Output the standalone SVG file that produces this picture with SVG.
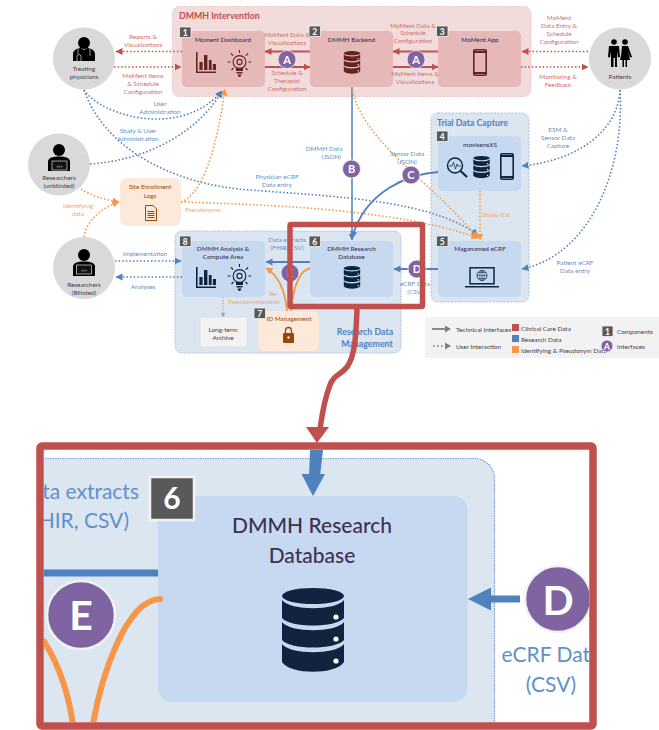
<svg xmlns="http://www.w3.org/2000/svg" width="659" height="730" viewBox="0 0 659 730">
<style>
text{font-family:"Lato","Carlito","Liberation Sans",sans-serif;font-size:6.4px;text-anchor:middle}
.r{fill:#cf6f6c}.b{fill:#5f90cc}.o{fill:#f8a55f}.k{fill:#3f3f4f}.t{fill:#403152;font-weight:500}
.st{text-anchor:start}
.h{font-weight:700;font-size:8.8px}
.bd{fill:#595959;stroke:#f2f2f2;stroke-width:.8}
.bt{fill:#fff;font-weight:700;font-size:8.5px}
.ci{fill:#8064a2;stroke:#f2f2f2;stroke-width:.8}
.ct{fill:#fff;font-weight:700;font-size:11px}
.pc{fill:#d9d9d9}
.rn{fill:#e6b8b7}.bn{fill:#c6d9f0}.on{fill:#fde9d9}
.d{fill:none;stroke-width:1.6;stroke-dasharray:1.5 2.1}
.s{fill:none;stroke-width:1.8}
.rc{stroke:#c0504d}.bc{stroke:#4f81bd}.oc{stroke:#f79646}
</style>
<defs>
<marker id="mr" markerUnits="userSpaceOnUse" markerWidth="8" markerHeight="8" refX="6.5" refY="3.5" orient="auto"><path d="M0 0L7 3.5L0 7Z" fill="#c0504d"/></marker>
<marker id="mb" markerUnits="userSpaceOnUse" markerWidth="8" markerHeight="8" refX="6.5" refY="3.5" orient="auto"><path d="M0 0L7 3.5L0 7Z" fill="#4f81bd"/></marker>
<marker id="mo" markerUnits="userSpaceOnUse" markerWidth="8" markerHeight="8" refX="6.5" refY="3.5" orient="auto"><path d="M0 0L7 3.5L0 7Z" fill="#f79646"/></marker>
<marker id="mg" markerUnits="userSpaceOnUse" markerWidth="6" markerHeight="6" refX="4.5" refY="2.5" orient="auto"><path d="M0 0L5 2.5L0 5Z" fill="#a6a6a6"/></marker>
<symbol id="db" viewBox="0 0 62 85"><ellipse cx="31" cy="8" rx="31" ry="8" fill="currentColor"/><path id="b1" d="M0 12C8 23 54 23 62 12V30C54 40 8 40 0 30Z" fill="currentColor"/><path d="M0 34C8 45 54 45 62 34V52C54 62 8 62 0 52Z" fill="currentColor"/><path d="M0 56C8 67 54 67 62 56V74C54 87 8 87 0 74Z" fill="currentColor"/><circle cx="54" cy="29" r="2.6" fill="#fff"/><circle cx="54" cy="51" r="2.6" fill="#fff"/><circle cx="54" cy="73" r="2.6" fill="#fff"/></symbol>
<symbol id="bars" viewBox="0 0 20 21"><path d="M0 0H1.6V19.4H20V21H0Z M3.4 10H6.6V18H3.4Z M8 3H11.4V18H8Z M12.8 8H15.6V18H12.8Z M16.8 12H20V18H16.8Z" fill="currentColor"/></symbol>
<symbol id="bulb" viewBox="0 0 24 27"><g fill="none" stroke="currentColor" stroke-width="1.1"><circle cx="12" cy="12" r="6.4"/><circle cx="12" cy="12" r="2.6"/><path d="M12 0V3M0 12H3M21 12H24M3.5 3.5L5.7 5.7M20.5 3.5L18.3 5.7M4 20L6 18M20 20L18 18"/></g><path d="M8.5 18H15.5V21H8.5ZM9 22H15V23.6H9ZM10 24.6H14L12.8 27H11.2Z" fill="currentColor"/></symbol>
<symbol id="phone" viewBox="0 0 14 27"><rect x=".8" y=".8" width="12.4" height="25.4" rx="1.2" fill="none" stroke="currentColor" stroke-width="1.6"/><path d="M0 2H14V4H0ZM0 23H14V25H0Z" fill="currentColor"/></symbol>
</defs>
<rect width="659" height="730" fill="#fff"/>

<g id="legend">
<rect x="425" y="317" width="234" height="41" fill="#f2f2f2"/>
<path d="M432 329H445" stroke="#7f7f7f" stroke-width="1.8"/><path d="M445 325.5L451 329L445 332.5Z" fill="#7f7f7f"/>
<path d="M433 346H445" stroke="#7f7f7f" stroke-width="1.6" stroke-dasharray="1.6 2.4"/><path d="M445 342.5L451 346L445 349.5Z" fill="#7f7f7f"/>
<text class="k st" x="456" y="331.5">Technical Interfaces</text><text class="k st" x="456" y="348.5">User Interaction</text>
<rect x="512" y="324" width="7" height="7" fill="#c0504d"/><rect x="512" y="335" width="7" height="7" fill="#4f81bd"/><rect x="512" y="346" width="7" height="7" fill="#f79646"/>
<text class="k st" x="521" y="330.5">Clinical Care Data</text><text class="k st" x="521" y="341.5">Research Data</text><text class="k st" x="521" y="352.5">Identifying &amp; Pseudonym Data</text>
<rect class="bd" x="602" y="326" width="11" height="10.5"/><text class="bt" x="607.5" y="334.5">1</text>
<circle class="ci" cx="607" cy="346" r="6"/><text class="ct" x="607" y="349.5" style="font-size:9px">A</text>
<text class="k st" x="617" y="333.5">Components</text><text class="k st" x="617" y="348.5">Interfaces</text>
</g>

<g id="dmmh-intervention"><rect x="172.500" y="6.500" width="358.500" height="90" rx="7" fill="#f2dcdb" stroke="#e6b8b7" stroke-width=".8" stroke-dasharray="2 1.500"/><text class="h st" x="179" y="19" fill="#c0504d">DMMH Intervention</text></g>
<g id="trial-data-capture"><rect x="431" y="113" width="98" height="189" rx="7" fill="#dce6f1" stroke="#95b3d7" stroke-width=".8" stroke-dasharray="2 1.500"/><text class="h st" x="437" y="125.500" fill="#4f81bd">Trial Data Capture</text></g>
<g id="research-data-management"><rect x="175" y="231" width="226" height="122" rx="7" fill="#dce6f1" stroke="#95b3d7" stroke-width=".8" stroke-dasharray="1.500 1.200"/><text class="h" x="365" y="335" fill="#4f81bd">Research Data</text><text class="h" x="367" y="346.500" fill="#4f81bd">Management</text></g>

<g id="connectors">
<path class="d rc" marker-end="url(#mr)" d="M182 51.500H116"/><path class="d rc" marker-end="url(#mr)" d="M114 67H181"/>
<path class="d rc" marker-end="url(#mr)" d="M588 51.500H522"/><path class="d rc" marker-end="url(#mr)" d="M521 67H588"/>
<path class="s rc" marker-end="url(#mr)" d="M310 51.500H265"/><path class="s rc" marker-end="url(#mr)" d="M265 67H310"/>
<path class="s rc" marker-end="url(#mr)" d="M438 51.500H393"/><path class="s rc" marker-end="url(#mr)" d="M393 67H438"/>
<path class="d bc" marker-end="url(#mb)" d="M84 90C100 115 180 140 222 91"/>
<path class="d bc" marker-end="url(#mb)" d="M90 164C150 160 200 130 222 91"/>
<path class="d bc" marker-end="url(#mb)" d="M84 90C105 150 175 185 250 190C340 197 430 200 478 235"/>
<path class="d bc" marker-end="url(#mb)" d="M620 90C618 130 580 160 522 166"/>
<path class="d bc" marker-end="url(#mb)" d="M620 90C625 170 590 255 522 269"/>
<path class="d bc" marker-end="url(#mb)" d="M115 261H181"/><path class="d bc" marker-end="url(#mb)" d="M182 277H116"/>
<path class="s bc" style="stroke-width:1.500" marker-end="url(#mb)" d="M352 87V240"/>
<path class="s bc" marker-end="url(#mb)" d="M438 172C410 174 365 190 352 238"/>
<path class="s bc" marker-end="url(#mb)" d="M438 269H394"/>
<path class="s bc" marker-end="url(#mb)" d="M310 262H266"/>
<path class="d oc" marker-end="url(#mo)" d="M81 189C90 195 105 200 119 202"/>
<path class="d oc" marker-end="url(#mo)" d="M84 237C86 222 100 208 119 202"/>
<path class="d oc" marker-end="url(#mo)" d="M181 202C200 195 215 160 225 89"/>
<path class="d oc" marker-end="url(#mo)" d="M181 202C280 205 400 210 478 238"/>
<path class="d oc" marker-end="url(#mo)" d="M352 87C360 140 430 180 478 238"/>
<path class="d oc" marker-end="url(#mo)" d="M480 191V240"/>
<path class="s oc" marker-end="url(#mo)" d="M287 311C285 290 278 275 266 268"/>
<path class="s oc" d="M291 311C293 290 298 270 311 268"/>
<path fill="none" stroke="#a6a6a6" stroke-width="1" stroke-dasharray="1.500 1.500" marker-end="url(#mg)" d="M223 297V317"/>
</g>

<g id="physicians"><circle class="pc" cx="84" cy="58.500" r="31"/>
<circle cx="84" cy="43" r="6"/><path d="M73 61V54C73 50 77 48.500 81 48L84 50L87 48C91 48.500 95 50 95 54V61Z"/><path d="M78 49V54M77 61V56.500A2 2 0 0 1 81 56.500V61M90 49V56" stroke="#fff" stroke-width=".6" fill="none"/>
<text class="k" x="84" y="71">Treating</text><text class="k" x="84" y="79">physicians</text></g>
<g id="researchers-unblinded"><circle class="pc" cx="59" cy="164.500" r="31"/>
<circle cx="59" cy="150" r="6"/><path d="M48 171V162C48 158 52 156.500 59 156.500C66 156.500 70 158 70 162V171Z"/><rect x="52" y="161" width="15" height="9" fill="#111" stroke="#fff" stroke-width=".6"/>
<text x="59.500" y="167.500" fill="#fff" style="font-size:4px">&lt;/&gt;</text>
<text class="k" x="59" y="180">Researchers</text><text class="k" x="59" y="188">(unblinded)</text></g>
<g id="researchers-blinded"><circle class="pc" cx="84" cy="268" r="31"/>
<circle cx="84" cy="255" r="6"/><path d="M73 276V267C73 263 77 261.500 84 261.500C91 261.500 95 263 95 267V276Z"/><rect x="76.500" y="265" width="15" height="9" fill="#111" stroke="#fff" stroke-width=".6"/>
<text x="84" y="271.500" fill="#fff" style="font-size:4px">&lt;/&gt;</text>
<text class="k" x="84" y="286.500">Researchers</text><text class="k" x="84" y="295">(Blinded)</text></g>
<g id="patients"><circle class="pc" cx="620" cy="58.500" r="31"/>
<circle cx="614" cy="42" r="2.800"/><circle cx="625" cy="42" r="2.800"/>
<path d="M609 46H619L620 57L618 57.500L617 51V67H615V58H613.500V67H611V51L610 57.500L608 57Z"/><path d="M622 46H628L632 57L630 57.500L628 51L630 60H627V67H625.500V60H624V67H622.500V60H620L622 51L621 56Z"/>
<text class="k" x="620" y="79">Patients</text></g>

<g id="node-1"><rect class="rn" x="182" y="31" width="83" height="56" rx="5"/><rect class="bd" x="179.500" y="27" width="11.500" height="10.500"/><text class="bt" x="185.200" y="35.500">1</text><text class="t" x="223" y="41.500">Moment Dashboard</text><use href="#bars" x="196" y="52" width="20" height="21" color="#632523"/><use href="#bulb" x="227.500" y="50" width="24" height="27" color="#632523"/></g>
<g id="node-2"><rect class="rn" x="310" y="31" width="83" height="56" rx="5"/><rect class="bd" x="309" y="26" width="11.500" height="10.500"/><text class="bt" x="314.700" y="34.500">2</text><text class="t" x="351.500" y="41.500">DMMH Backend</text><use href="#db" x="343.500" y="51" width="17" height="23" color="#632523"/></g>
<g id="node-3"><rect class="rn" x="438" y="31" width="83" height="56" rx="5"/><rect class="bd" x="436.500" y="26" width="11.500" height="10.500"/><text class="bt" x="442.200" y="34.500">3</text><text class="t" x="480" y="41.500">MoMent App</text><use href="#phone" x="473" y="49" width="14" height="27" color="#632523"/></g>
<g id="node-4"><rect class="bn" x="438" y="136" width="83" height="55" rx="5"/><rect class="bd" x="436.500" y="131" width="11.500" height="10.500"/><text class="bt" x="442.200" y="139.500">4</text><text class="t" x="480" y="146.500">movisensXS</text>
<g color="#0f243e"><circle cx="455" cy="165.500" r="7.500" fill="none" stroke="#0f243e" stroke-width="1.400"/><path d="M460.500 171L467 177" stroke="#0f243e" stroke-width="2.200"/><path d="M449 166H452L453.500 162L455.500 169L457 164L458 166H461" fill="none" stroke="#0f243e" stroke-width=".7"/></g>
<use href="#db" x="473" y="156" width="17" height="22.500" color="#0f243e"/><use href="#phone" x="500" y="153" width="14" height="27" color="#0f243e"/></g>
<g id="node-5"><rect class="bn" x="438" y="241" width="83" height="56" rx="5"/><rect class="bd" x="436.500" y="236" width="11.500" height="10.500"/><text class="bt" x="442.200" y="244.500">5</text><text class="t" x="480" y="250.500">Maganamed eCRF</text>
<rect x="470" y="267.800" width="24" height="16" fill="none" stroke="#0f243e" stroke-width="1.500"/><path d="M465 286H499V287.500H465Z" fill="#0f243e"/><circle cx="482" cy="275.500" r="5" fill="none" stroke="#0f243e" stroke-width=".8"/><path d="M477 275.500H487M482 270.500V280.500M478 272.500H486M478 278.500H486" stroke="#0f243e" stroke-width=".5"/><ellipse cx="482" cy="275.500" rx="2.200" ry="5" fill="none" stroke="#0f243e" stroke-width=".5"/></g>
<g id="node-6"><rect class="bn" x="310" y="241" width="83" height="56" rx="5"/><rect class="bd" x="309" y="236" width="11.500" height="10.500"/><text class="bt" x="314.700" y="244.500">6</text><text class="t" x="351.500" y="250.500">DMMH Research</text><text class="t" x="351.500" y="259">Database</text><use href="#db" x="343.500" y="266" width="17" height="23" color="#0f243e"/></g>
<g id="node-7"><rect class="on" x="258" y="311" width="61" height="40" rx="6"/><rect class="bd" x="254" y="308" width="11.500" height="10.500"/><text class="bt" x="259.700" y="316.500">7</text><text x="289" y="320.500" fill="#984807">ID Management</text>
<path d="M285.500 333V330.500A3 3 0 0 1 291.500 330.500V333" fill="none" stroke="#984807" stroke-width="1.300"/><rect x="283" y="333" width="11" height="10" rx="1" fill="#984807"/><circle cx="288.500" cy="337.500" r="1.200" fill="#fde9d9"/></g>
<g id="node-8"><rect class="bn" x="182" y="241" width="83" height="56" rx="5"/><rect class="bd" x="179.500" y="236" width="11.500" height="10.500"/><text class="bt" x="185.200" y="244.500">8</text><text class="t" x="223" y="250.500">DMMH Analysis &amp;</text><text class="t" x="223" y="259">Compute Area</text><use href="#bars" x="196" y="267" width="20" height="21" color="#0f243e"/><use href="#bulb" x="227.500" y="264" width="24" height="27" color="#0f243e"/></g>
<g id="long-term-archive"><rect x="200" y="317" width="47" height="30" rx="2" fill="#f2f2f2" stroke="#d0d0d0" stroke-width=".8" stroke-dasharray="1.500 1"/><text class="k" x="223" y="331.500">Long-term</text><text class="k" x="223" y="339.500">Archive</text></g>
<g id="site-enrollment-logs"><rect class="on" x="120" y="178" width="61" height="48" rx="7"/><text x="150" y="189" fill="#984807">Site Enrollment</text><text x="150" y="197.500" fill="#984807">Logs</text>
<path d="M145.500 205.500H153L156.500 209V220.500H145.500Z" fill="#fde9d9" stroke="#984807" stroke-width="1"/><path d="M147.500 211.500H154.500M147.500 213.500H154.500M147.500 215.500H154.500M147.500 217.500H154.500" stroke="#984807" stroke-width="1"/></g>

<g id="interfaces">
<circle class="ci" cx="287" cy="59.500" r="9"/><text class="ct" x="287" y="63.500">A</text>
<circle class="ci" cx="416" cy="59.500" r="9"/><text class="ct" x="416" y="63.500">A</text>
<circle class="ci" cx="351.500" cy="169" r="9"/><text class="ct" x="351.500" y="173">B</text>
<circle class="ci" cx="411" cy="175" r="9"/><text class="ct" x="411" y="179">C</text>
<circle class="ci" cx="417" cy="269" r="9"/><text class="ct" x="417" y="273">D</text>
<circle class="ci" cx="290" cy="273" r="9"/><text class="ct" x="290" y="277">E</text>
</g>

<g id="labels">
<g class="r"><text x="143" y="38.500">Reports &amp;</text><text x="143" y="46.500">Visualizations</text>
<text x="143" y="77.500">MoMent Items</text><text x="143" y="85.500">&amp; Schedule</text><text x="143" y="93.500">Configuration</text>
<text x="287" y="36.500">MoMent Data &amp;</text><text x="287" y="44.500">Visualizations</text>
<text x="287" y="75">Schedule &amp;</text><text x="287" y="83">Therapist</text><text x="287" y="90.500">Configuration</text>
<text x="413" y="27.500">MoMent Data &amp;</text><text x="413" y="35">Schedule</text><text x="413" y="43">Configuration</text>
<text x="415" y="75.500">MoMent Items &amp;</text><text x="415" y="83.500">Visualizations</text>
<text x="559" y="20">MoMent</text><text x="559" y="28">Data Entry &amp;</text><text x="559" y="36">Schedule</text><text x="559" y="44">Configuration</text>
<text x="558" y="79">Monitoring &amp;</text><text x="558" y="87">Feedback</text></g>
<g class="b"><text x="160" y="106">User</text><text x="160" y="114">Administration</text>
<text x="138" y="132.500">Study &amp; User</text><text x="138" y="140.500">Administration</text>
<text x="324" y="151">DMMH Data</text><text x="341" y="159" style="text-anchor:end">(JSON)</text>
<text x="407" y="155.500">Sensor Data</text><text x="407" y="163.500">(JSON)</text>
<text x="558" y="131.500">ESM &amp;</text><text x="558" y="139.500">Sensor Data</text><text x="558" y="147.500">Capture</text>
<text x="277" y="178.500">Physician eCRF</text><text x="277" y="186.500">Data entry</text>
<text x="575" y="265">Patient eCRF</text><text x="575" y="273">Data entry</text>
<text x="145" y="255.500">Implementation</text><text x="143" y="288.500">Analyses</text>
<text x="287" y="241.500">Data extracts</text><text x="287" y="249.500">(FHIR, CSV)</text>
<text x="415" y="285.500">eCRF Data</text><text x="415" y="294">(CSV)</text></g>
<g class="o"><text x="496" y="216.500">Study-IDs</text><text x="78" y="207.500">Identifying</text><text x="78" y="215.500">data</text>
<text class="st" x="185" y="211.500">Pseudonyms</text><text x="274" y="295.500">Re-</text><text x="254" y="303.500">Pseudonymization</text></g>
</g>

<g id="highlight-frame"><rect x="290" y="224.500" width="132.500" height="82" rx="1" fill="none" stroke="#c0504d" stroke-width="5.500"/></g>
<g id="callout-arrow"><path d="M357 309C356 330 356 355 347 367C340 376 334 374 330 385C324 400 322 415 320 429" fill="none" stroke="#c0504d" stroke-width="5.500"/><path d="M306 427H329L317 443Z" fill="#c0504d"/></g>

<g id="zoom-inset">
<clipPath id="cp"><rect x="44" y="450" width="545" height="272"/></clipPath>
<g clip-path="url(#cp)">
<rect x="20" y="458.500" width="474.500" height="300" rx="20" fill="#dce6f1" stroke="#6f9bd0" stroke-width="1.200" stroke-dasharray="1.500 1"/>
<rect class="bn" x="158" y="496" width="309.500" height="206" rx="14"/>
<rect class="bd" x="150" y="477" width="44" height="43" style="stroke-width:2.500"/><text x="172" y="509" fill="#fff" style="font-size:30px;font-weight:700">6</text>
<text class="t" x="312" y="533" style="font-size:21px">DMMH Research</text><text class="t" x="312" y="563" style="font-size:21px">Database</text>
<use href="#db" x="282" y="588" width="62" height="85" color="#12233f"/>
<text class="b" x="139" y="499" style="font-size:21px;text-anchor:end">Data extracts</text><text class="b" x="129" y="528" style="font-size:21px;text-anchor:end">(FHIR, CSV)</text>
<text class="b" x="551" y="662" style="font-size:21px">eCRF Data</text><text class="b" x="551" y="692" style="font-size:21px">(CSV)</text>
<path d="M44 573H158" stroke="#4f81bd" stroke-width="7"/>
<path d="M43 640C60 665 70 700 73 726" fill="none" stroke="#f79646" stroke-width="6"/>
<path d="M160 599C125 600 100 680 92 730" fill="none" stroke="#f79646" stroke-width="6" stroke-linecap="round"/>
<circle cx="81" cy="615" r="34" fill="#8064a2" stroke="#f2f2f2" stroke-width="2.500"/><text x="81" y="630" fill="#fff" style="font-size:41px;font-weight:700">E</text>
<path d="M520 599H488" stroke="#4f81bd" stroke-width="7"/><path d="M491 587.500V610.500L468 599Z" fill="#4f81bd"/>
<circle cx="558" cy="599" r="33" fill="#8064a2" stroke="#f2f2f2" stroke-width="2.500"/><text x="558" y="615" fill="#fff" style="font-size:41px;font-weight:700">D</text>
<path d="M310 450H323L320 476H309Z" fill="#4f81bd"/><path d="M301.500 474H325L313 496Z" fill="#4f81bd"/>
</g>
<rect x="40" y="446" width="553" height="280" rx="2" fill="none" stroke="#c0504d" stroke-width="7.500"/>
</g>
</svg>
